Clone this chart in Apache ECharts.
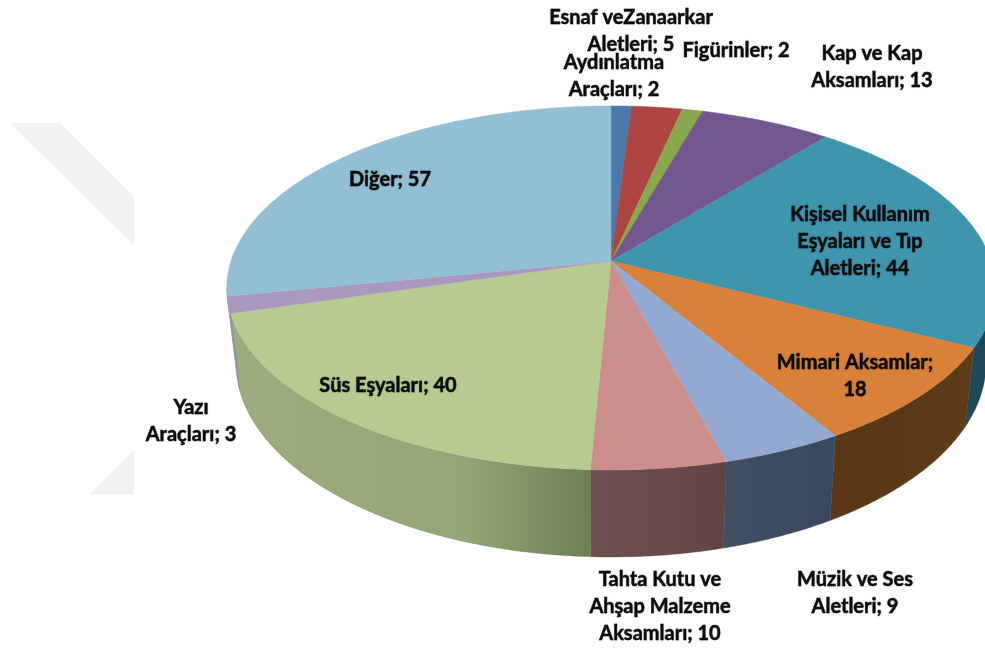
<!DOCTYPE html>
<html><head><meta charset="utf-8">
<style>html,body{margin:0;padding:0;background:#fff}#c{width:985px;height:650px}</style>
<script src="https://cdn.jsdelivr.net/npm/echarts@6/dist/echarts.min.js"></script>
</head><body><div id="c"></div>
<script>
const categories = ["Aydınlatma Araçları","Esnaf ve Zanaarkar Aletleri","Figürinler","Kap ve Kap Aksamları","Kişisel Kullanım Eşyaları ve Tıp Aletleri","Mimari Aksamlar","Müzik ve Ses Aletleri","Tahta Kutu ve Ahşap Malzeme Aksamları","Süs Eşyaları","Yazı Araçları","Diğer"];
const values = [2,5,2,13,44,18,9,10,40,3,57];
const labelTexts = ["Aydınlatma\nAraçları; 2","Esnaf veZanaarkar\nAletleri; 5","Figürinler; 2","Kap ve Kap\nAksamları; 13","Kişisel Kullanım\nEşyaları ve Tıp\nAletleri; 44","Mimari Aksamlar;\n18","Müzik ve Ses\nAletleri; 9","Tahta Kutu ve\nAhşap Malzeme\nAksamları; 10","Süs Eşyaları; 40","Yazı\nAraçları; 3","Diğer; 57"];
const topColors = ["#4a79ad","#ad4643","#89a84b","#72588f","#3f95ae","#d98138","#93a9d2","#cc8e8c","#b7cb91","#aa98bd","#92bfd3"];
const wallLeft  = ["#2a4563","#632725","#4e602b","#413252","#1f4a58","#5a3717","#3f4e60","#6f4f4e","#9dac7f","#8c7c9e","#8f9aac"];
const wallMid   = ["#2a4563","#632725","#4e602b","#413252","#1d4857","#5a3918","#3c4b5d","#674948","#94a577","#8c7c9e","#8f9aac"];
const wallRight = ["#2a4563","#632725","#4e602b","#413252","#1a4555","#5d3c1a","#39485a","#5f4342","#6e7e57","#8c7c9e","#8f9aac"];
// label centres (first line) — layout only
const labelPos = [[614,62],[631,17],[736,50],[872,53],[860,214],[855,362],[855,579],[660,579],[388,385],[191,407],[390,179]];

const total = values.reduce((a,b)=>a+b,0);
const CX=611, CY=261, C=0.148, A=178, B=380;
const BOT_CY=363, BOT_RX=375, BOT_RY=194, TOP_RX=384;
const tangent = Math.PI/2 + Math.asin(C);

function topPoint(th){
  const u=Math.sin(th), v=-Math.cos(th), w=1-C*v;
  return [CX+B*u/w, CY+A*v/w];
}
function botPoint(p){
  const t=Math.max(-1,Math.min(1,(p[0]-CX)/TOP_RX));
  return [CX+t*BOT_RX, BOT_CY+BOT_RY*Math.sqrt(1-t*t)];
}
function arc(a0,a1){
  const n=Math.max(2,Math.ceil((a1-a0)/(Math.PI/360))), pts=[];
  for(let i=0;i<=n;i++) pts.push(topPoint(a0+(a1-a0)*i/n));
  return pts;
}
function renderItem(params,api){
  const i=params.dataIndex;
  let before=0; for(let k=0;k<i;k++) before+=values[k];
  const val=api.value(1);
  const a0=before/total*2*Math.PI, a1=(before+val)/total*2*Math.PI;
  const children=[];
  const w0=Math.max(a0,tangent), w1=Math.min(a1,2*Math.PI-tangent);
  if(w1>w0){
    const rim=arc(w0,w1), low=rim.map(botPoint).reverse();
    children.push({type:'polygon',z2:1,shape:{points:rim.concat(low)},style:{
      fill:{type:'linear',x:0,y:0,x2:1,y2:0,colorStops:[{offset:0,color:wallLeft[i]},{offset:0.65,color:wallMid[i]},{offset:1,color:wallRight[i]}]},
      stroke:wallRight[i],lineWidth:0.4}});
  }
  children.push({type:'polygon',z2:2,shape:{points:[[CX,CY]].concat(arc(a0,a1))},style:{fill:topColors[i],stroke:topColors[i],lineWidth:0.5}});
  children.push({type:'text',z2:10,style:{text:labelTexts[i],x:labelPos[i][0],y:labelPos[i][1]-13,align:'center',verticalAlign:'top',
    font:'bold 20px Lato',lineHeight:27,fill:'#0c0c0c',stroke:'#0c0c0c',lineWidth:0.4,textShadowColor:'rgba(0,0,0,0.25)',textShadowBlur:1.5}});
  return {type:'group',children};
}
const chart=echarts.init(document.getElementById('c'),null,{renderer:'canvas'});
chart.setOption({
  backgroundColor:'#fff',animation:false,
  graphic:[
    {type:'polygon',z:0,silent:true,shape:{points:[[10,123],[60,123],[134,197],[134,245]]},style:{fill:'#f2f2f2'}},
    {type:'polygon',z:0,silent:true,shape:{points:[[90,494],[134,450],[134,494]]},style:{fill:'#f2f2f2'}}
  ],
  series:[{type:'custom',coordinateSystem:'none',renderItem,silent:true,
    data:categories.map((c,i)=>[c,values[i]])}]
});
</script></body></html>
